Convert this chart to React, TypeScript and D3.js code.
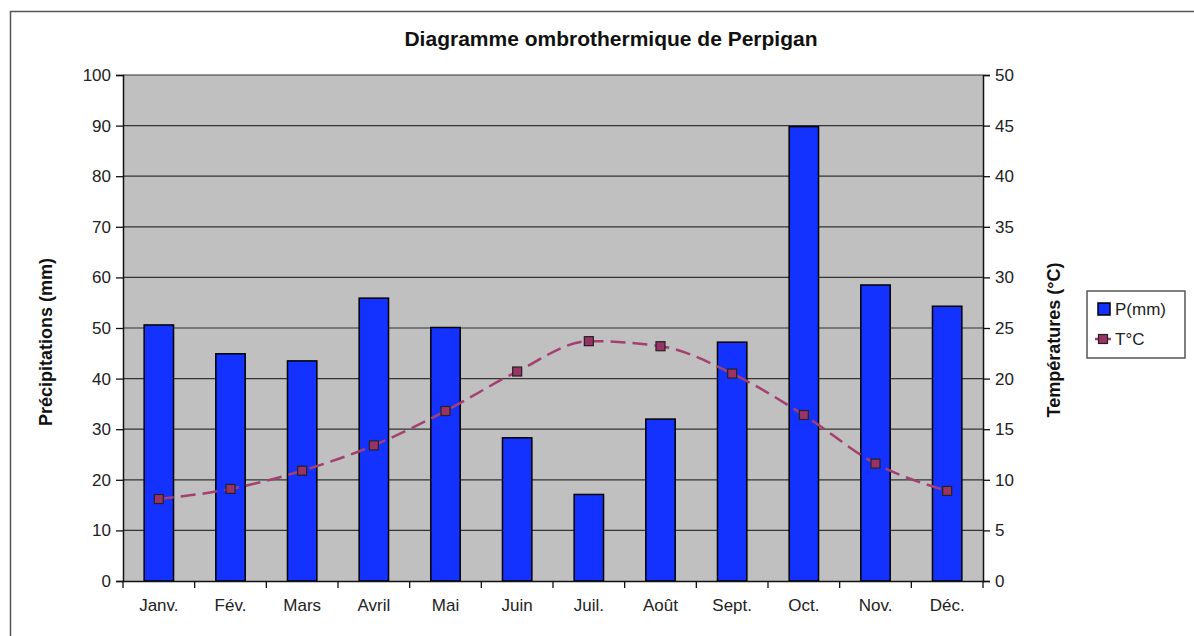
import { useEffect, useRef } from 'react';
import * as d3 from 'd3';

// data
const months = ['Janv.', 'Fév.', 'Mars', 'Avril', 'Mai', 'Juin', 'Juil.', 'Août', 'Sept.', 'Oct.', 'Nov.', 'Déc.'];
const precip = [50.6, 44.9, 43.5, 55.9, 50.1, 28.3, 17.1, 32, 47.2, 89.8, 58.5, 54.3];
const temps = [8.1, 9.1, 10.9, 13.4, 16.8, 20.7, 23.7, 23.2, 20.5, 16.4, 11.6, 8.9];
const precipTicks = [0, 10, 20, 30, 40, 50, 60, 70, 80, 90, 100];
const tempTicks = [0, 5, 10, 15, 20, 25, 30, 35, 40, 45, 50];

const W = 1194;
const H = 636;
const FONT = '"Liberation Sans", Arial, sans-serif';

const App = () => {
  const ref = useRef<SVGSVGElement | null>(null);

  useEffect(() => {
    const svg = d3.select(ref.current);
    svg.selectAll('*').remove();

    const margin = { top: 75, left: 123, right: 983, bottom: 581 };

    const x = d3.scaleBand<string>().domain(months).range([margin.left, margin.right]);
    const yP = d3.scaleLinear().domain([0, 100]).range([margin.bottom, margin.top]);
    const yT = d3.scaleLinear().domain([0, 50]).range([margin.bottom, margin.top]);

    // outer frame
    svg.append('path')
      .attr('d', `M10.5,${H} V11.5 H${W}`)
      .attr('fill', 'none')
      .attr('stroke', '#555')
      .attr('stroke-width', 1.5);

    // plot background
    svg.append('rect')
      .attr('x', margin.left)
      .attr('y', margin.top)
      .attr('width', margin.right - margin.left)
      .attr('height', margin.bottom - margin.top)
      .attr('fill', '#c0c0c0');

    // grid
    svg.append('g')
      .selectAll('line')
      .data(precipTicks.slice(1))
      .join('line')
      .attr('x1', margin.left)
      .attr('x2', margin.right)
      .attr('y1', d => yP(d))
      .attr('y2', d => yP(d))
      .attr('stroke', '#333')
      .attr('stroke-width', 1.2);

    // bars
    const bw = x.bandwidth() * 0.41;
    svg.append('g')
      .selectAll('rect')
      .data(precip)
      .join('rect')
      .attr('x', (_, i) => x(months[i])! + x.bandwidth() / 2 - bw / 2)
      .attr('y', d => yP(d))
      .attr('width', bw)
      .attr('height', d => yP(0) - yP(d))
      .attr('fill', '#1432ff')
      .attr('stroke', '#000')
      .attr('stroke-width', 1.5);

    // axes
    const axisStyle = (g: d3.Selection<SVGGElement, unknown, null, undefined>) => {
      g.selectAll('.domain').attr('stroke', '#111').attr('stroke-width', 1.5);
      g.selectAll('.tick line').attr('stroke', '#111').attr('stroke-width', 1.3);
      g.selectAll('text')
        .attr('font-family', FONT)
        .attr('font-size', 17)
        .attr('fill', '#222');
    };

    svg.append('g')
      .attr('transform', `translate(${margin.left},0)`)
      .call(d3.axisLeft(yP).tickValues(precipTicks).tickSizeOuter(0).tickSize(7).tickPadding(5))
      .call(axisStyle);

    svg.append('g')
      .attr('transform', `translate(${margin.right},0)`)
      .call(d3.axisRight(yT).tickValues(tempTicks).tickSizeOuter(0).tickSize(7).tickPadding(5))
      .call(axisStyle);

    const xAxis = svg.append('g')
      .attr('transform', `translate(0,${margin.bottom})`)
      .call(d3.axisBottom(x).tickSize(0).tickSizeOuter(0).tickPadding(18))
      .call(axisStyle);
    // category boundary ticks
    xAxis.append('g')
      .selectAll('line')
      .data(d3.range(months.length + 1))
      .join('line')
      .attr('x1', i => margin.left + i * x.step())
      .attr('x2', i => margin.left + i * x.step())
      .attr('y1', 0)
      .attr('y2', 7)
      .attr('stroke', '#111')
      .attr('stroke-width', 1.3);

    // temperature line
    const cx = (i: number) => x(months[i])! + x.bandwidth() / 2;
    const line = d3.line<number>()
      .x((_, i) => cx(i))
      .y(d => yT(d))
      .curve(d3.curveMonotoneX);

    svg.append('path')
      .datum(temps)
      .attr('fill', 'none')
      .attr('stroke', '#a3406f')
      .attr('stroke-width', 2.5)
      .attr('stroke-dasharray', '15,7')
      .attr('d', line);

    svg.append('g')
      .selectAll('rect')
      .data(temps)
      .join('rect')
      .attr('x', (_, i) => cx(i) - 4.5)
      .attr('y', d => yT(d) - 4.5)
      .attr('width', 9)
      .attr('height', 9)
      .attr('fill', '#993366')
      .attr('stroke', '#222')
      .attr('stroke-width', 1.2);

    // title
    svg.append('text')
      .attr('x', 611)
      .attr('y', 46)
      .attr('text-anchor', 'middle')
      .attr('font-family', FONT)
      .attr('font-weight', 'bold')
      .attr('font-size', 21)
      .attr('fill', '#111')
      .text('Diagramme ombrothermique de Perpigan');

    // axis titles
    svg.append('text')
      .attr('transform', `translate(52,342) rotate(-90)`)
      .attr('text-anchor', 'middle')
      .attr('font-family', FONT)
      .attr('font-weight', 'bold')
      .attr('font-size', 18)
      .attr('fill', '#111')
      .text('Précipitations (mm)');

    svg.append('text')
      .attr('transform', `translate(1060,340) rotate(-90)`)
      .attr('text-anchor', 'middle')
      .attr('font-family', FONT)
      .attr('font-weight', 'bold')
      .attr('font-size', 18)
      .attr('fill', '#111')
      .text('Températures (°C)');

    // legend
    const lg = svg.append('g').attr('transform', 'translate(1087,291)');
    lg.append('rect')
      .attr('width', 98)
      .attr('height', 67)
      .attr('fill', '#fff')
      .attr('stroke', '#555')
      .attr('stroke-width', 1.5);
    lg.append('rect')
      .attr('x', 11)
      .attr('y', 12)
      .attr('width', 12)
      .attr('height', 12)
      .attr('fill', '#1432ff')
      .attr('stroke', '#000')
      .attr('stroke-width', 1.5);
    lg.append('line')
      .attr('x1', 8)
      .attr('x2', 24)
      .attr('y1', 48)
      .attr('y2', 48)
      .attr('stroke', '#a3406f')
      .attr('stroke-width', 2.5);
    lg.append('rect')
      .attr('x', 11.5)
      .attr('y', 43.5)
      .attr('width', 9)
      .attr('height', 9)
      .attr('fill', '#993366')
      .attr('stroke', '#222')
      .attr('stroke-width', 1.2);
    lg.selectAll('text.lab')
      .data(['P(mm)', 'T°C'])
      .join('text')
      .attr('class', 'lab')
      .attr('x', 28)
      .attr('y', (_, i) => 24 + i * 30)
      .attr('font-family', FONT)
      .attr('font-size', 17)
      .attr('fill', '#222')
      .text(d => d);
  }, []);

  return (
    <svg
      ref={ref}
      width={W}
      height={H}
      style={{ position: 'absolute', left: 0, top: 0, background: '#fff' }}
    ></svg>
  );
};

export default App;
